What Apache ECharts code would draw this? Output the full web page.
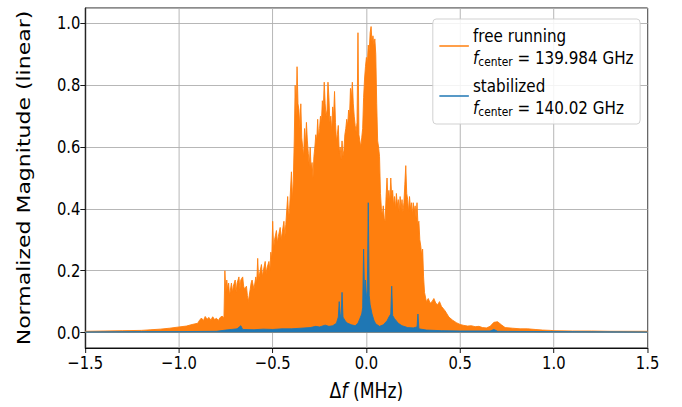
<!DOCTYPE html>
<html><head><meta charset="utf-8">
<script src="https://cdn.jsdelivr.net/npm/echarts@6/dist/echarts.min.js"></script>
<style>
html,body{margin:0;padding:0;overflow:hidden;background:#fff;width:682px;height:407px}
#wrap{width:682px;height:407px;overflow:hidden;position:relative}
#chart{width:832px;height:407px;transform:scaleX(0.8197);transform-origin:0 0;position:absolute;left:0;top:0}
</style></head>
<body><div id="wrap"><div id="chart"></div></div>
<script>
// x tick labels (MHz) and y tick labels
const xTicks = [-1.5, -1.0, -0.5, 0.0, 0.5, 1.0, 1.5];
const yTicks = [0.0, 0.2, 0.4, 0.6, 0.8, 1.0];

// free running spectrum (envelope)
const freeFreq = [-1.50,-1.40,-1.30,-1.20,-1.15,-1.10,-1.05,-1.00,-0.96,-0.93,-0.90,-0.89,-0.88,-0.87,-0.86,-0.85,-0.84,-0.83,-0.82,-0.81,-0.80,-0.79,-0.78,-0.77,-0.76,
-0.755,-0.75,-0.745,-0.74,-0.735,-0.73,-0.72,-0.715,-0.71,-0.70,-0.695,-0.69,-0.68,-0.675,-0.67,-0.66,-0.655,-0.65,-0.64,-0.635,-0.63,-0.62,-0.615,-0.61,-0.60,-0.595,-0.59,-0.585,-0.58,-0.575,-0.57,-0.56,-0.555,-0.55,-0.54,-0.535,-0.53,-0.52,-0.515,-0.51,-0.505,
-0.50,-0.495,-0.49,-0.48,-0.475,-0.47,-0.46,-0.455,-0.45,-0.44,-0.435,-0.43,-0.42,-0.415,-0.41,-0.40,-0.395,-0.39,-0.385,-0.38,-0.375,-0.37,-0.365,-0.36,-0.355,-0.35,-0.345,-0.34,-0.335,-0.33,-0.325,-0.32,-0.315,-0.31,-0.305,
-0.30,-0.295,-0.29,-0.285,-0.28,-0.275,-0.27,-0.265,-0.26,-0.255,-0.25,-0.245,-0.24,-0.235,-0.23,-0.225,-0.22,-0.215,-0.21,-0.205,-0.20,-0.195,-0.19,-0.185,-0.18,-0.175,-0.17,-0.165,-0.16,-0.155,-0.15,-0.145,-0.14,-0.135,-0.13,-0.125,-0.12,-0.115,-0.11,-0.105,
-0.10,-0.095,-0.09,-0.085,-0.08,-0.075,-0.07,-0.065,-0.06,-0.055,-0.05,-0.045,-0.04,-0.035,-0.03,-0.025,-0.02,-0.015,-0.01,-0.005,
0.00,0.005,0.01,0.015,0.02,0.025,0.03,0.035,0.04,0.045,0.05,0.055,0.06,0.065,0.07,0.075,0.08,0.085,0.09,0.095,
0.10,0.105,0.11,0.115,0.12,0.125,0.13,0.135,0.14,0.145,0.15,0.155,0.16,0.165,0.17,0.175,0.18,0.185,0.19,0.195,
0.20,0.205,0.21,0.215,0.22,0.225,0.23,0.235,0.24,0.245,0.25,0.255,0.26,0.265,0.27,0.275,0.28,0.285,0.29,0.295,
0.30,0.305,0.31,0.32,0.33,0.34,0.35,0.36,0.37,0.38,0.39,0.40,0.42,0.44,0.46,0.48,0.50,0.52,0.54,0.56,0.58,0.60,0.62,0.64,0.66,0.68,0.70,0.72,0.74,0.78,0.82,0.86,0.90,0.94,0.98,1.00,1.10,1.20,1.30,1.40,1.50];
const freeMag = [.004,.005,.006,.007,.009,.011,.014,.018,.021,.026,.030,.040,.047,.038,.052,.043,.049,.040,.051,.042,.046,.039,.049,.053,.048,
.20,.13,.17,.14,.16,.12,.16,.13,.15,.17,.13,.16,.18,.14,.17,.18,.15,.14,.15,.12,.10,.14,.16,.17,.14,.16,.18,.16,.24,.17,.19,.22,.18,.20,.23,.19,.21,.23,.20,.26,.24,
.36,.27,.30,.33,.29,.31,.34,.30,.32,.36,.31,.35,.44,.37,.40,.52,.43,.49,.62,.80,.70,.86,.74,.72,.66,.74,.63,.60,.57,.66,.61,.68,.62,.58,.54,
.60,.53,.55,.50,.57,.60,.64,.62,.69,.63,.66,.70,.68,.75,.72,.81,.74,.70,.72,.81,.76,.68,.70,.65,.73,.70,.78,.68,.62,.64,.67,.58,.60,.56,.62,.57,.59,.64,.66,.69,
.67,.72,.70,.79,.76,.81,.74,.70,.67,.65,.68,.97,.64,.62,.60,.63,.66,.76,.82,.86,
.89,.87,.93,.91,.97,.99,.94,.96,.93,.95,.90,.74,.62,.60,.57,.45,.40,.38,.41,.37,
.36,.44,.50,.43,.46,.42,.50,.44,.46,.41,.44,.40,.45,.41,.43,.39,.44,.40,.43,.39,
.42,.48,.54,.45,.43,.39,.44,.40,.42,.38,.42,.39,.41,.37,.42,.35,.36,.30,.28,.25,
.27,.18,.13,.10,.11,.095,.10,.11,.095,.09,.10,.085,.07,.05,.04,.032,.026,.023,.021,.022,.019,.020,.016,.015,.020,.033,.035,.025,.016,.014,.012,.012,.010,.008,.007,.006,.005,.005,.004,.004,.004];

// stabilized spectrum
const stabFreq = [-1.50,-1.20,-1.00,-0.80,-0.75,-0.72,-0.69,-0.67,-0.66,-0.60,-0.55,-0.50,-0.45,-0.40,-0.35,-0.30,-0.27,-0.25,-0.22,-0.20,-0.18,-0.16,-0.15,-0.145,-0.14,-0.135,-0.13,-0.125,-0.12,-0.11,-0.10,-0.08,-0.06,-0.045,-0.035,-0.025,-0.02,-0.015,-0.01,-0.005,
0.00,0.005,0.01,0.015,0.02,0.03,0.04,0.05,0.07,0.09,0.11,0.12,0.13,0.135,0.14,0.15,0.17,0.19,0.22,0.25,0.27,0.275,0.28,0.32,0.40,0.50,0.66,0.68,0.70,1.00,1.50];
const stabMag = [.002,.003,.003,.004,.008,.010,.012,.022,.010,.009,.011,.010,.012,.012,.014,.016,.020,.018,.024,.020,.022,.030,.050,.10,.06,.045,.13,.05,.045,.035,.030,.025,.022,.030,.045,.060,.080,.27,.12,.17,
.11,.14,.42,.12,.09,.06,.04,.028,.020,.025,.038,.050,.060,.15,.055,.045,.030,.022,.016,.015,.018,.060,.012,.008,.006,.005,.005,.010,.004,.003,.002];

const FONT = 'DejaVu Sans';
const fmt = v => (v < 0 ? '\u2212' : '') + Math.abs(v).toFixed(1);

const chart = echarts.init(document.getElementById('chart'), null, {renderer: 'svg'});
chart.setOption({
  animation: false,
  backgroundColor: '#fff',
  textStyle: {fontFamily: FONT},
  grid: {left: 104, right: 42, top: 8, bottom: 59, show: true, borderColor: '#000', borderWidth: 1, backgroundColor: 'transparent'},
  legend: {
    orient: 'vertical', left: 528, top: 19,
    backgroundColor: 'rgba(255,255,255,0.85)', borderColor: '#cccccc', borderWidth: 1, borderRadius: 4,
    padding: [5, 8, 6, 8], itemGap: 6, itemWidth: 36, itemHeight: 1.5, icon: 'rect',
    data: ['free running', 'stabilized'],
    formatter: name => name === 'free running'
      ? 'free running\n{it|f}{sub|center} = 139.984 GHz'
      : 'stabilized\n{it|f}{sub|center} = 140.02 GHz',
    textStyle: {fontFamily: FONT, fontSize: 18.5, color: '#000', lineHeight: 22,
      rich: {
        it: {fontFamily: FONT, fontSize: 18.5, fontStyle: 'italic', color: '#000', lineHeight: 22},
        sub: {fontFamily: FONT, fontSize: 13, color: '#000', verticalAlign: 'bottom', lineHeight: 20}
      }}
  },
  xAxis: {
    type: 'value', min: xTicks[0], max: xTicks[xTicks.length - 1], interval: 0.5,
    axisLine: {onZero: false, lineStyle: {color: '#000', width: 1}},
    axisTick: {show: true, inside: false, length: 5, lineStyle: {color: '#000'}},
    axisLabel: {fontFamily: FONT, fontSize: 18, color: '#000', margin: 6, formatter: fmt},
    splitLine: {show: true, lineStyle: {color: '#b0b0b0', width: 1}},
    name: '{n|\u0394}{it|f}{n| (MHz)}', nameLocation: 'middle', nameGap: 32,
    nameTextStyle: {fontFamily: FONT, fontSize: 21, color: '#000',
      rich: {n: {fontFamily: FONT, fontSize: 21, color: '#000'}, it: {fontFamily: FONT, fontSize: 21, fontStyle: 'italic', color: '#000'}}}
  },
  yAxis: {
    type: 'value', min: -0.05, max: 1.05, splitNumber: 5,
    axisLine: {show: true, onZero: false, lineStyle: {color: '#000', width: 1}},
    axisTick: {show: true, inside: false, length: 6, lineStyle: {color: '#000'}},
    axisLabel: {fontFamily: FONT, fontSize: 18, color: '#000', margin: 6, showMinLabel: false, showMaxLabel: false,
      formatter: v => (yTicks.some(t => Math.abs(t - v) < 1e-6) ? fmt(v) : '')},
    splitLine: {show: true, lineStyle: {color: '#b0b0b0', width: 1}},
    name: 'Normalized Magnitude (linear)', nameLocation: 'middle', nameGap: 64,
    nameTextStyle: {fontFamily: FONT, fontSize: 22, color: '#000'}
  },
  series: [
    {type: 'line', name: 'free running', data: freeFreq.map((f, i) => [f, freeMag[i]]),
     symbol: 'none', showSymbol: false, sampling: null, z: 2,
     lineStyle: {color: '#ff7f0e', width: 1}, itemStyle: {color: '#ff7f0e'},
     areaStyle: {color: '#ff7f0e', opacity: 1}, emphasis: {disabled: true}},
    {type: 'line', name: 'stabilized', data: stabFreq.map((f, i) => [f, stabMag[i]]),
     symbol: 'none', showSymbol: false, sampling: null, z: 3,
     lineStyle: {color: '#1f77b4', width: 1}, itemStyle: {color: '#1f77b4'},
     areaStyle: {color: '#1f77b4', opacity: 1}, emphasis: {disabled: true}}
  ]
});
</script></body></html>
